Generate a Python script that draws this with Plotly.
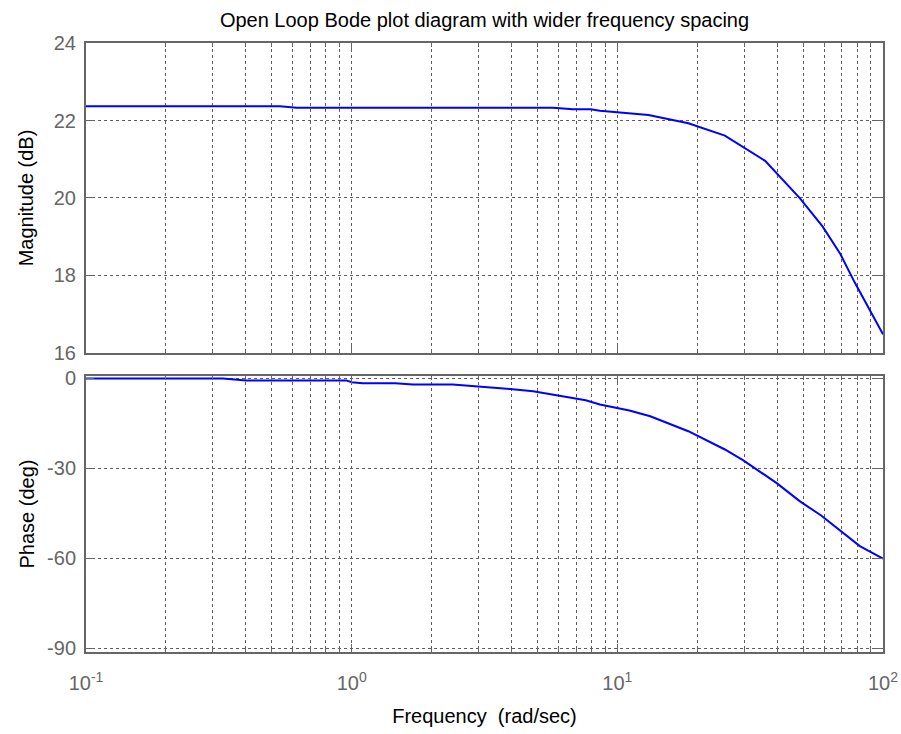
import plotly.graph_objects as go

# Magnitude response samples (rad/sec, dB)
mag_freq = [0.1, 0.537, 0.62, 5.73, 6.8, 7.93, 8.6, 9.9, 13.1, 18.5, 25.4, 36.0, 48.7, 59.3, 68.9, 78.4, 100]
mag_db = [22.37, 22.37, 22.33, 22.33, 22.29, 22.29, 22.25, 22.21, 22.14, 21.93, 21.61, 20.96, 19.99, 19.26, 18.57, 17.81, 16.48]

# Phase response samples (rad/sec, deg)
ph_freq = [0.1, 0.328, 0.40, 0.955, 1.0, 1.10, 1.46, 1.70, 2.40, 2.95, 3.94, 4.82, 5.6, 6.6, 7.6, 8.6, 9.9,
           11.1, 13.3, 15.4, 18.5, 25.4, 29.8, 39.8, 48.7, 58.5, 68.9, 81.8, 100]
ph_deg = [0, 0, -0.67, -0.67, -1.3, -1.6, -1.6, -2.0, -2.0, -2.6, -3.5, -4.3, -5.3, -6.2, -7.3, -8.7, -9.8,
          -10.7, -12.6, -14.9, -17.6, -23.7, -27.3, -34.9, -41.0, -45.7, -50.7, -55.9, -60.1]

# Axis ticks
decades = [0.1, 1, 10, 100]
decade_labels = ["10<sup>-1</sup>", "10<sup>0</sup>", "10<sup>1</sup>", "10<sup>2</sup>"]
mag_ticks = [16, 18, 20, 22, 24]
mag_labels = ["16", "18", "20", "22", "24"]
ph_ticks = [-90, -60, -30, 0]
ph_labels = ["-90", "-60", "-30", "0"]

minor_vals = [k * d for d in decades[:-1] for k in range(2, 10)]

AX = "#666666"
GRID = "#5e5e5e"
FONT = "Liberation Sans, Arial, sans-serif"
TICK_FONT = dict(family=FONT, size=20, color=AX)
LABEL_FONT = dict(family=FONT, size=20, color="black")

fig = go.Figure()
fig.add_trace(go.Scatter(x=mag_freq, y=mag_db, mode="lines",
                         line=dict(color="#0000ff", width=2), xaxis="x", yaxis="y", showlegend=False))
fig.add_trace(go.Scatter(x=ph_freq, y=ph_deg, mode="lines",
                         line=dict(color="#0000ff", width=2), xaxis="x2", yaxis="y2", showlegend=False))

common_x = dict(
    type="log", range=[-1, 2], tickmode="array", tickvals=decades,
    showline=True, linecolor=AX, linewidth=2, mirror="ticks",
    ticks="inside", ticklen=8, tickcolor=AX, tickwidth=1,
    showgrid=True, gridcolor=GRID, gridwidth=1, griddash="dot",
    zeroline=False, automargin=False,
    minor=dict(tickmode="array", tickvals=minor_vals, ticks="inside", ticklen=4,
               tickcolor=AX, showgrid=True, gridcolor=GRID, gridwidth=1, griddash="dot"),
    tickfont=TICK_FONT,
)
common_y = dict(
    showline=True, linecolor=AX, linewidth=2, mirror="ticks",
    ticks="inside", ticklen=8, tickcolor=AX, tickwidth=1,
    showgrid=True, gridcolor=GRID, gridwidth=1, griddash="dot",
    zeroline=False, automargin=False, tickfont=TICK_FONT, tickmode="array",
)

fig.update_layout(
    width=901, height=734,
    paper_bgcolor="white", plot_bgcolor="white",
    margin=dict(l=86, r=18, t=43, b=82, autoexpand=False),
    font=dict(family=FONT, color="black"),
    title=dict(text="Open Loop Bode plot diagram with wider frequency spacing",
               x=0.5, xref="paper", xanchor="center", y=1 - 20 / 734, yref="container", yanchor="middle",
               font=dict(family=FONT, size=20, color="black")),
    xaxis=dict(common_x, domain=[0, 1], anchor="y", showticklabels=False),
    yaxis=dict(common_y, domain=[0.491, 1], range=[16, 24], tickvals=mag_ticks, ticktext=mag_labels,
               ticklabelstandoff=4,
               title=dict(text="Magnitude (dB)", font=LABEL_FONT, standoff=15)),
    xaxis2=dict(common_x, domain=[0, 1], anchor="y2", matches="x", ticktext=decade_labels,
                ticklabelstandoff=12,
                title=dict(text="Frequency  (rad/sec)", font=LABEL_FONT, standoff=16)),
    yaxis2=dict(common_y, domain=[0, 0.4532], range=[-91.2, 0.8], tickvals=ph_ticks, ticktext=ph_labels,
                ticklabelstandoff=4,
                title=dict(text="Phase (deg)", font=LABEL_FONT, standoff=7)),
)

fig.write_html("out.html")
